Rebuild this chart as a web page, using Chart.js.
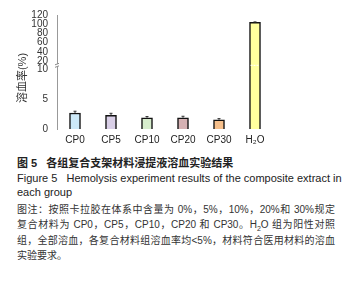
<!DOCTYPE html>
<html>
<head>
<meta charset="utf-8">
<script src="https://cdn.jsdelivr.net/npm/chart.js@4/dist/chart.umd.min.js"></script>
<style>
  body { margin: 0; background: #fff; width: 349px; height: 284px; overflow: hidden; position: relative; }
  #chartBox { position: absolute; left: 0; top: 0; width: 349px; height: 149px; }
  .ln { position: absolute; left: 17px; line-height: 14px; white-space: nowrap;
        font-family: "Liberation Sans", "Noto Sans CJK SC", sans-serif; color: #222; }
  .cap { font-size: 11px; font-weight: bold; }
  .en { font-size: 11px; }
  .note { font-size: 10px; color: #333; width: 318px; text-align: justify; text-align-last: justify; }
  sub { font-size: 7px; line-height: 0; }
</style>
</head>
<body>
<div id="chartBox"><canvas id="hemoChart"></canvas></div>

<div class="ln cap" style="top:156px">图 5&nbsp;&nbsp;&nbsp;各组复合支架材料浸提液溶血实验结果</div>
<div class="ln en" style="top:171px">Figure 5&nbsp;&nbsp;&nbsp;Hemolysis experiment results of the composite extract in</div>
<div class="ln en" style="top:185px">each group</div>
<div class="ln note" style="top:203px">图注：按照卡拉胶在体系中含量为 0%，5%，10%，20%和 30%规定</div>
<div class="ln note" style="top:218px">复合材料为 CP0，CP5，CP10，CP20 和 CP30。H<sub>2</sub>O 组为阳性对照</div>
<div class="ln note" style="top:234px">组，全部溶血，各复合材料组溶血率均&lt;5%，材料符合医用材料的溶血</div>
<div class="ln note" style="top:249px; text-align-last:left">实验要求。</div>

<script>
// Hemolysis rate per group.

const groups = ['CP0', 'CP5', 'CP10', 'CP20', 'CP30', 'H₂O'];
const hemolysisRate = [2.7, 2.3, 1.9, 1.9, 1.55, 104];
const rateError = [0.3, 0.35, 0.2, 0.25, 0.2, 1];
const yTicks = [0, 5, 10, 20, 40, 60, 80, 100, 120];
const yTitle = '溶血率(%)';
const barColors = ['#cde9f8', '#d9cfe7', '#d7edcd', '#d5b1b3', '#f7c08c', '#ffff9e'];

// Broken y axis: values and the share of the axis height they sit at
const breakValues = [0, 10, 20, 120];
const breakFractions = [0, 0.52, 0.597, 1];

function valueToFraction(v) {
    for (let i = 1; i < breakValues.length; i++) {
        if (v <= breakValues[i] || i === breakValues.length - 1) {
            const t = (v - breakValues[i - 1]) / (breakValues[i] - breakValues[i - 1]);
            return breakFractions[i - 1] + t * (breakFractions[i] - breakFractions[i - 1]);
        }
    }
    return 0;
}

function fractionToValue(f) {
    for (let i = 1; i < breakFractions.length; i++) {
        if (f <= breakFractions[i] || i === breakFractions.length - 1) {
            const t = (f - breakFractions[i - 1]) / (breakFractions[i] - breakFractions[i - 1]);
            return breakValues[i - 1] + t * (breakValues[i] - breakValues[i - 1]);
        }
    }
    return 0;
}

class BrokenScale extends Chart.LinearScale {
    getPixelForValue(value) {
        return this.bottom - valueToFraction(value) * (this.bottom - this.top);
    }
    getValueForPixel(pixel) {
        return fractionToValue((this.bottom - pixel) / (this.bottom - this.top));
    }
}
BrokenScale.id = 'broken';
BrokenScale.defaults = Chart.LinearScale.defaults;
Chart.register(BrokenScale);

const FONT = '"Liberation Sans", "Noto Sans CJK SC", sans-serif';

// Error bars on top of each bar
const errorBarPlugin = {
    id: 'errorBars',
    afterDatasetsDraw(chart) {
        const { ctx } = chart;
        const yScale = chart.scales.y;
        const meta = chart.getDatasetMeta(0);
        ctx.save();
        ctx.strokeStyle = '#333';
        ctx.lineWidth = 1;
        meta.data.forEach((bar, i) => {
            const top = yScale.getPixelForValue(hemolysisRate[i] + rateError[i]);
            ctx.beginPath();
            ctx.moveTo(bar.x, bar.y);
            ctx.lineTo(bar.x, top);
            ctx.moveTo(bar.x - 1.5, top);
            ctx.lineTo(bar.x + 1.5, top);
            ctx.stroke();
        });
        ctx.restore();
    }
};

// Break marks on the axis and across the tall bar, plus the axis title
const breakPlugin = {
    id: 'axisBreak',
    afterDraw(chart) {
        const { ctx } = chart;
        const yScale = chart.scales.y;
        const yb = yScale.getPixelForValue(15);
        const x0 = chart.chartArea.left;
        ctx.save();
        // small gap with slanted strokes on the axis
        ctx.fillStyle = '#fff';
        ctx.fillRect(x0 - 2, yb - 1.5, 4, 3);
        ctx.strokeStyle = '#888';
        ctx.lineWidth = 1;
        ctx.beginPath();
        ctx.moveTo(x0 - 2, yb - 0.5);
        ctx.lineTo(x0 + 2, yb - 2);
        ctx.moveTo(x0 - 2, yb + 2);
        ctx.lineTo(x0 + 2, yb + 0.5);
        ctx.stroke();
        // white dashed line over the bars that cross the break
        const meta = chart.getDatasetMeta(0);
        meta.data.forEach((bar, i) => {
            if (hemolysisRate[i] > breakValues[2]) {
                ctx.strokeStyle = '#fff';
                ctx.setLineDash([2, 1]);
                ctx.beginPath();
                ctx.moveTo(bar.x - bar.width / 2 + 1, yb);
                ctx.lineTo(bar.x + bar.width / 2 - 1, yb);
                ctx.stroke();
            }
        });
        // rotated y title, a little below the middle of the axis
        ctx.setLineDash([]);
        ctx.translate(yScale.left + 6, (yScale.top + yScale.bottom) / 2 + 6);
        ctx.rotate(-Math.PI / 2);
        ctx.fillStyle = '#333';
        ctx.font = '11px ' + FONT;
        ctx.textAlign = 'center';
        ctx.textBaseline = 'middle';
        ctx.fillText(yTitle, 0, 0);
        ctx.restore();
    }
};

new Chart(document.getElementById('hemoChart'), {
    type: 'bar',
    data: {
        labels: groups,
        datasets: [{
            label: yTitle,
            data: hemolysisRate,
            backgroundColor: barColors,
            borderColor: '#111',
            borderWidth: 1.5,
            barThickness: 11
        }]
    },
    options: {
        responsive: true,
        maintainAspectRatio: false,
        animation: false,
        layout: { padding: { left: 17, top: 12, right: 76, bottom: 0 } },
        plugins: {
            legend: { display: false },
            tooltip: { enabled: false }
        },
        scales: {
            x: {
                grid: { display: false, drawTicks: false },
                border: { display: false },
                ticks: { color: '#222', font: { family: FONT, size: 10 }, padding: 5 },
                afterFit(scale) { scale.height = 20; }
            },
            y: {
                type: 'broken',
                min: 0,
                max: 120,
                grid: { display: false, drawTicks: false },
                border: { display: true, color: '#999', width: 1 },
                afterBuildTicks(scale) { scale.ticks = yTicks.map(v => ({ value: v })); },
                ticks: {
                    autoSkip: false,
                    color: '#333',
                    padding: 9,
                    font: { family: FONT, size: 10 },
                    callback: v => String(v)
                },
                afterFit(scale) { scale.width = 40; }
            }
        }
    },
    plugins: [errorBarPlugin, breakPlugin]
});
</script>
</body>
</html>
